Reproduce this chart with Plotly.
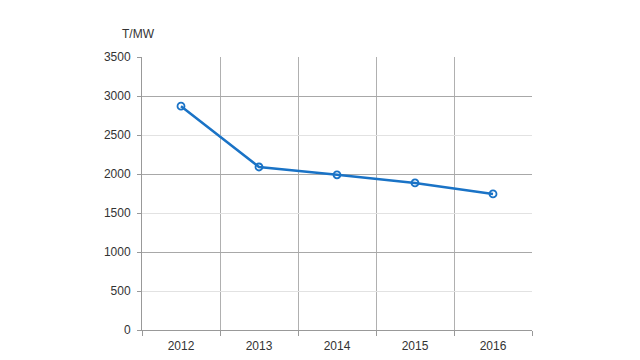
import plotly.graph_objects as go

years = ["2012", "2013", "2014", "2015", "2016"]
values = [2870, 2090, 1990, 1885, 1745]
unit_label = "T/MW"

fig = go.Figure()
fig.add_trace(go.Scatter(
    x=years, y=values, mode="lines+markers",
    line=dict(color="#1a73c6", width=2.5),
    marker=dict(symbol="circle-open", size=7, color="#1a73c6", line=dict(width=1.8)),
    showlegend=False, cliponaxis=False,
))
# overlay axis for the darker gridlines every 1000
fig.add_trace(go.Scatter(x=years, y=values, yaxis="y2", mode="none",
                         showlegend=False, hoverinfo="skip"))

font = dict(family="Liberation Sans, Arial, sans-serif", size=12, color="#333333")
fig.update_layout(
    width=624, height=344,
    margin=dict(l=134, r=100, t=49, b=22, autoexpand=False),
    paper_bgcolor="white", plot_bgcolor="white",
    font=font,
    xaxis=dict(type="category", range=[-0.5, 4.5], tickson="boundaries",
               ticks="outside", ticklen=5, automargin=False,
               tickcolor="#999999", showgrid=True, gridcolor="#b0b0b0", gridwidth=1,
               showline=True, linecolor="#999999", linewidth=1, tickfont=font,
               zeroline=False, ticklabelstandoff=5),
    yaxis=dict(range=[0, 3500], dtick=500, tick0=0, ticks="outside", ticklen=4,
               automargin=False,
               tickcolor="#999999", showgrid=True, gridcolor="#e2e2e2", gridwidth=1,
               showline=True, linecolor="#999999", linewidth=1, zeroline=False,
               tickfont=font, ticklabelstandoff=4),
    yaxis2=dict(range=[0, 3500], dtick=1000, tick0=0, overlaying="y", automargin=False,
                showticklabels=False, showgrid=True, gridcolor="#a8a8a8", gridwidth=1,
                zeroline=False, showline=False, ticks=""),
    annotations=[dict(text=unit_label, xref="paper", yref="paper", x=-0.009, y=1.051,
                      xanchor="center", yanchor="bottom", showarrow=False, font=font)],
)
fig.write_html("out.html")
